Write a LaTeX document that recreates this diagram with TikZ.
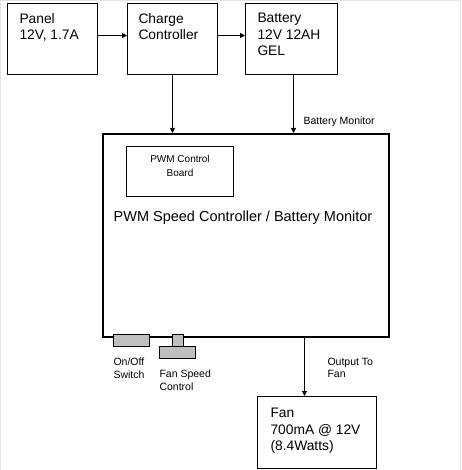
\documentclass[tikz,border=0pt]{standalone}
\usepackage{fontspec}
\setmainfont{Liberation Sans}
\usetikzlibrary{arrows.meta,calc}

\begin{document}
\begin{tikzpicture}[x=1pt, y=-1pt, >={Triangle[length=5pt,width=5pt]}, line width=1pt,
  box/.style={draw, line width=1pt, inner sep=0pt, anchor=north west},
  knob/.style={draw, fill=black!25, line width=1pt, inner sep=0pt, anchor=north west},
  bigtxt/.style={font=\fontsize{13.8}{16.5}\selectfont, inner sep=0pt, align=left, anchor=north west},
  smalltxt/.style={font=\fontsize{10.5}{12.5}\selectfont, inner sep=0pt, align=left, anchor=west}]

\useasboundingbox (0,0) rectangle (461,470);

% faint frame of the page
\draw[black!10] (0.5,470) |- (460.5,0.5) -- (460.5,470);

% Top row: panel, charge controller, battery
\node[box, minimum width=90, minimum height=71] (panel) at (7,3) {};
\node[bigtxt] (panel-t) at ([shift={(12,10)}]panel.north west) {Panel\\12V, 1.7A};

\node[box, minimum width=90, minimum height=71] (charge) at (127,3) {};
\node[bigtxt] (charge-t) at ([shift={(11,10)}]charge.north west) {Charge\\Controller};

\node[box, minimum width=92, minimum height=71] (battery) at (245,3) {};
\node[bigtxt] (battery-t) at ([shift={(12,10)}]battery.north west) {Battery\\12V 12AH\\GEL};

\draw[->] ([yshift=3.5]panel.east) -- ([yshift=3.5]charge.west);
\draw[->] ([yshift=3.5]charge.east) -- ([yshift=3.5]battery.west);

% Main controller box
\node[box, line width=2pt, minimum width=286, minimum height=203] (pwm) at (102,133) {};
\node[box, minimum width=107, minimum height=50] (board) at (126,146) {};
\node[font=\fontsize{10}{14}\selectfont, align=center, inner sep=0pt] (board-t) at (180,166) {PWM Control\\Board};
\node[font=\fontsize{14.5}{15}\selectfont, inner sep=0pt] (pwm-t) at (243,218) {PWM Speed Controller / Battery Monitor};

\draw[->] (charge.south) -- (charge.south |- pwm.north);
\draw[->] ([xshift=2]battery.south) -- ([xshift=2]battery.south |- pwm.north);
\node[smalltxt] (batmon) at (303,122) {Battery Monitor};

% Switch and speed knob on the lower edge
\node[knob, minimum width=36, minimum height=12] (switch) at (113,334) {};
\node[knob, minimum width=36, minimum height=12] (speed) at (159,346) {};
\node[knob, minimum width=11, minimum height=12] (knob) at (172,334) {};
\node[smalltxt] (switch-t) at (113,368) {On/Off\\Switch};
\node[smalltxt, font=\fontsize{10.5}{13.5}\selectfont] (speed-t) at (159,380) {Fan Speed\\Control};

% Output to fan
\node[box, minimum width=119, minimum height=72] (fan) at (257,396) {};
\node[bigtxt] (fan-t) at ([shift={(13,12)}]fan.north west) {Fan\\700mA @ 12V\\(8.4Watts)};
\coordinate (out) at ([xshift=-12.5]fan.north |- pwm.south);
\draw[->] (out) -- (out |- fan.north);
\node[smalltxt] (out-t) at (327,368) {Output To\\Fan};

\end{tikzpicture}
\end{document}
